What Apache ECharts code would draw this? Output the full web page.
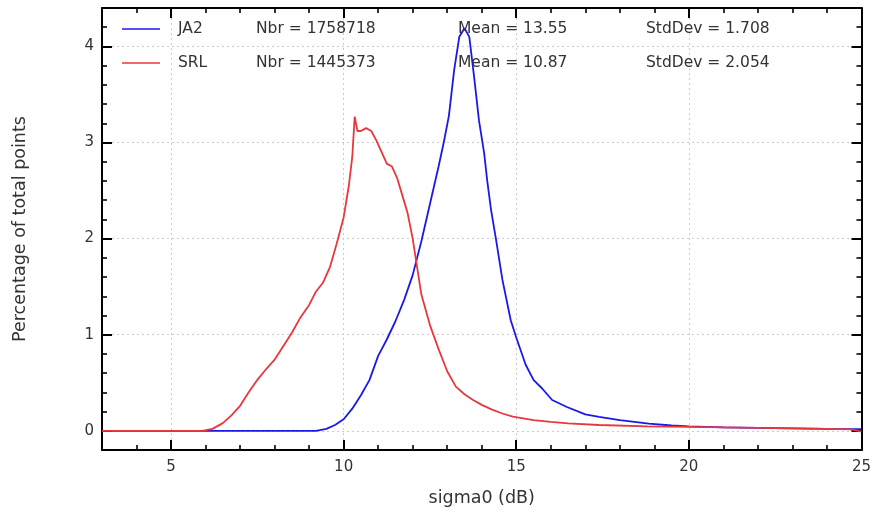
<!DOCTYPE html>
<html><head><meta charset="utf-8">
<script src="https://cdn.jsdelivr.net/npm/echarts@6/dist/echarts.min.js"></script>
<style>html,body{margin:0;padding:0;background:#fff}#c{width:874px;height:518px}</style>
</head><body><div id="c"></div>
<script>
const seriesNames = ['JA2', 'SRL'];
const nbrValues = ['1758718', '1445373'];
const meanValues = ['13.55', '10.87'];
const stdValues = ['1.708', '2.054'];

const ja2Sigma = [3, 9.2, 9.5, 9.75, 10.0, 10.25, 10.5, 10.75, 11.0, 11.25, 11.5, 11.75, 12.0, 12.25, 12.5, 12.75, 12.9, 13.05, 13.2, 13.35, 13.5, 13.64, 13.78, 13.92, 14.07, 14.16, 14.27, 14.41, 14.6, 14.84, 15.0, 15.27, 15.5, 15.75, 16.04, 16.45, 17.0, 17.4, 18.0, 18.84, 19.5, 20.0, 21.0, 22.0, 23.0, 24.0, 25.0];
const ja2Pct = [0, 0, 0.02, 0.06, 0.12, 0.23, 0.37, 0.53, 0.78, 0.95, 1.14, 1.36, 1.62, 1.97, 2.36, 2.75, 3.0, 3.28, 3.75, 4.1, 4.19, 4.1, 3.68, 3.23, 2.89, 2.6, 2.3, 2.0, 1.57, 1.15, 0.97, 0.69, 0.53, 0.44, 0.32, 0.25, 0.17, 0.145, 0.11, 0.075, 0.055, 0.045, 0.035, 0.03, 0.025, 0.02, 0.018];

const srlSigma = [3, 5.9, 6.2, 6.5, 6.75, 7.0, 7.25, 7.5, 7.75, 8.0, 8.25, 8.5, 8.75, 9.0, 9.2, 9.4, 9.6, 9.8, 10.0, 10.15, 10.25, 10.32, 10.4, 10.5, 10.65, 10.8, 10.95, 11.1, 11.25, 11.4, 11.55, 11.7, 11.85, 12.0, 12.25, 12.5, 12.75, 13.0, 13.25, 13.5, 13.75, 14.0, 14.3, 14.6, 14.9, 15.5, 16.0, 16.5, 17.4, 18.8, 20.0, 21.0, 22.0, 23.0, 24.0, 24.7, 25.0];
const srlPct = [0, 0, 0.02, 0.08, 0.16, 0.26, 0.40, 0.53, 0.64, 0.74, 0.88, 1.02, 1.18, 1.31, 1.45, 1.54, 1.70, 1.95, 2.22, 2.55, 2.85, 3.27, 3.12, 3.12, 3.15, 3.12, 3.02, 2.90, 2.78, 2.75, 2.63, 2.45, 2.27, 2.0, 1.42, 1.1, 0.85, 0.62, 0.46, 0.38, 0.32, 0.27, 0.22, 0.18, 0.147, 0.11, 0.093, 0.078, 0.06, 0.045, 0.04, 0.035, 0.03, 0.025, 0.02, 0.015, -0.01];

const xMajorTicks = [5, 10, 15, 20, 25];
const yMajorTicks = [0, 1, 2, 3, 4];
const seriesColors = ['#1a1ae8', '#e8383f'];

const FONT = 'DejaVu Sans';
const black = {color: '#000', width: 2};
const gridDash = {color: '#cccccc', width: 1, type: [2, 3]};

function minorAxis(pos, min, max, step) {
  return {
    type: 'value', position: pos, min: min, max: max, interval: step,
    axisLine: {show: true, onZero: false, lineStyle: black},
    axisTick: {show: true, inside: true, length: 5, lineStyle: {color: '#000', width: 1.6}},
    axisLabel: {show: false}, splitLine: {show: false}
  };
}
function majorAxis(pos, min, max, ticks, withLabels, withGrid) {
  return {
    type: 'value', position: pos, min: min, max: max,
    axisLine: {show: false, onZero: false},
    axisTick: {show: true, inside: true, length: 10, customValues: ticks, lineStyle: {color: '#000', width: 2}},
    axisLabel: {show: withLabels, customValues: ticks, fontFamily: FONT, fontSize: 15, color: '#333', margin: 10},
    splitLine: {show: withGrid, lineStyle: gridDash}
  };
}

const xAxes = [minorAxis('bottom', 3, 25, 1), majorAxis('bottom', 3, 25, xMajorTicks, true, true),
               minorAxis('top', 3, 25, 1), majorAxis('top', 3, 25, xMajorTicks, false, false)];
Object.assign(xAxes[1], {name: 'sigma0 (dB)', nameLocation: 'middle', nameGap: 39,
  nameTextStyle: {fontFamily: FONT, fontSize: 17.5, color: '#333'}});
const yAxes = [minorAxis('left', -0.2, 4.4, 0.2), majorAxis('left', -0.2, 4.4, yMajorTicks, true, true),
               minorAxis('right', -0.2, 4.4, 0.2), majorAxis('right', -0.2, 4.4, yMajorTicks, false, false)];
Object.assign(yAxes[1], {name: 'Percentage of total points', nameLocation: 'middle', nameGap: 73,
  nameTextStyle: {fontFamily: FONT, fontSize: 17.5, color: '#333'}});
yAxes[1].axisLabel.margin = 8;

const LF = 15.5;
const chart = echarts.init(document.getElementById('c'), null, {renderer: 'canvas'});
chart.setOption({
  animation: false,
  backgroundColor: '#fff',
  grid: {left: 102, right: 11, top: 8, bottom: 68, containLabel: false},
  xAxis: xAxes,
  yAxis: yAxes,
  legend: {
    left: 117, top: 16, orient: 'vertical', itemGap: 18, itemWidth: 38, itemHeight: 14,
    data: seriesNames.map(function (n) { return {name: n, icon: 'path://M0,0L38,0L38,1.6L0,1.6Z'}; }),
    formatter: function (name) {
      const i = seriesNames.indexOf(name);
      return '{s| }{n|' + name + '}{a|Nbr = ' + nbrValues[i] + '}{b|Mean = ' + meanValues[i] + '}{c|StdDev = ' + stdValues[i] + '}';
    },
    textStyle: {
      fontFamily: FONT, fontSize: LF, color: '#333',
      rich: {
        s: {width: 13, lineHeight: 16},
        n: {width: 78, fontFamily: FONT, fontSize: LF, color: '#333', lineHeight: 16},
        a: {width: 202, fontFamily: FONT, fontSize: LF, color: '#333', lineHeight: 16},
        b: {width: 188, fontFamily: FONT, fontSize: LF, color: '#333', lineHeight: 16},
        c: {fontFamily: FONT, fontSize: LF, color: '#333', lineHeight: 16}
      }
    }
  },
  series: seriesNames.map(function (nm, k) {
    const xs = k === 0 ? ja2Sigma : srlSigma;
    const ys = k === 0 ? ja2Pct : srlPct;
    return {
      type: 'line', name: nm, xAxisIndex: 0, yAxisIndex: 0,
      data: xs.map(function (x, i) { return [x, ys[i]]; }),
      symbol: 'none', showSymbol: false, clip: true,
      lineStyle: {color: seriesColors[k], width: 1.8},
      itemStyle: {color: seriesColors[k]}
    };
  })
});
</script>
</body></html>
